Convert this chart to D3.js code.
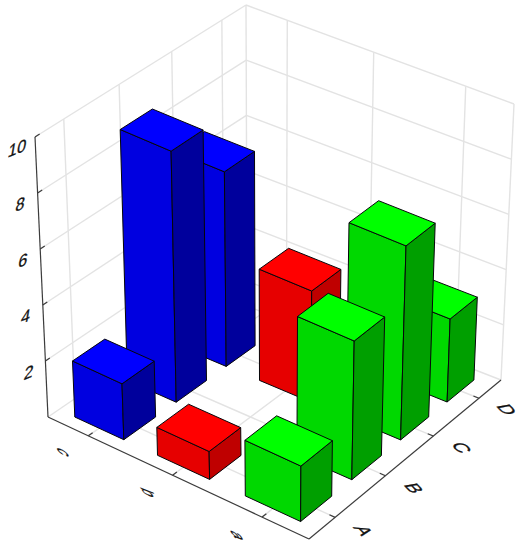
<!DOCTYPE html>
<html>
<head>
<meta charset="UTF-8">
<script src="https://d3js.org/d3.v7.min.js"></script>
<style>
html, body {margin: 0; padding: 0; background: #fff;}
svg {display: block;}
text {font-family: "Liberation Sans", Arial, sans-serif; font-size: 17px; fill: #111; stroke: #111; stroke-width: 0.3px;}
</style>
<title>3D bars</title>
</head>
<body>
<svg id="chart" width="525" height="550"></svg>
<script>
// data (null = no bar)
var colLabels = ["A", "B", "C", "D"];
var rowLabels = ["c", "b", "a"];
var rowC = [2, 9, 7, null];
var rowB = [1, null, 4, null];
var rowA = [2, 5, 7, 3];
var zTicks = [2, 4, 6, 8, 10];
var rows = [rowC, rowB, rowA];

var rowColors = [
    {top: "#0000ff", left: "#0000e0", right: "#00009c"},
    {top: "#ff0000", left: "#e60000", right: "#bf0000"},
    {top: "#00ff00", left: "#00d800", right: "#009f00"}
];

// corners of the box on screen, order: left, back, right, front
var floorQuad = [[48, 417], [247, 281], [501, 380], [309, 539]];
var topQuad = [[35, 137], [246, 5], [514, 104], [311, 262]];

var uScale = d3.scalePoint().domain(colLabels).range([0, 1]).padding(0.5);
var vScale = d3.scalePoint().domain(rowLabels).range([0, 1]).padding(0.5);
var zScale = d3.scaleLinear().domain([0, 10]).range([0, 1]);
var barHalf = 0.3;

// unit square -> quad, projective
function makeHomography(q) {
    var x0 = q[0][0], y0 = q[0][1], x1 = q[1][0], y1 = q[1][1];
    var x2 = q[2][0], y2 = q[2][1], x3 = q[3][0], y3 = q[3][1];
    var sx = x0 - x1 + x2 - x3, sy = y0 - y1 + y2 - y3;
    var dx1 = x1 - x2, dx2 = x3 - x2, dy1 = y1 - y2, dy2 = y3 - y2;
    var den = dx1 * dy2 - dx2 * dy1;
    var g = (sx * dy2 - dx2 * sy) / den;
    var h = (dx1 * sy - sx * dy1) / den;
    var a = x1 - x0 + g * x1, b = x3 - x0 + h * x3;
    var d = y1 - y0 + g * y1, e = y3 - y0 + h * y3;
    return function(u, v) {
        var w = g * u + h * v + 1;
        return [(a * u + b * v + x0) / w, (d * u + e * v + y0) / w];
    };
}
var floorH = makeHomography(floorQuad);
var topH = makeHomography(topQuad);

function project(u, v, z) {
    var p = floorH(u, v), t = topH(u, v);
    return [p[0] + (t[0] - p[0]) * z, p[1] + (t[1] - p[1]) * z];
}

var svg = d3.select("#chart");
var gridG = svg.append("g").attr("fill", "none").attr("stroke", "#e3e3e3").attr("stroke-width", 1.4);
var axisG = svg.append("g").attr("fill", "none").attr("stroke", "#3c3c3c").attr("stroke-width", 1.2);
var barsG = svg.append("g");
var textG = svg.append("g");

function segment(g, a, b) {
    g.append("line").attr("x1", a[0]).attr("y1", a[1]).attr("x2", b[0]).attr("y2", b[1]);
}

// walls
[0].concat(zTicks).forEach(function(t) {
    var z = zScale(t);
    segment(gridG, project(0, 0, z), project(1, 0, z));
    segment(gridG, project(1, 0, z), project(1, 1, z));
});
segment(gridG, project(1, 0, 0), project(1, 0, 1));
segment(gridG, project(1, 1, 0), project(1, 1, 1));
colLabels.forEach(function(c) {
    var u = uScale(c);
    segment(gridG, project(u, 0, 0), project(u, 0, 1));
    segment(gridG, project(u, 0, 0), project(u, 1, 0));
});
rowLabels.forEach(function(r) {
    var v = vScale(r);
    segment(gridG, project(1, v, 0), project(1, v, 1));
    segment(gridG, project(0, v, 0), project(1, v, 0));
});

// axes and ticks
segment(axisG, project(0, 0, 0), project(0, 1, 0));
segment(axisG, project(0, 1, 0), project(1, 1, 0));
segment(axisG, project(0, 0, 0), project(0, 0, 1));
colLabels.forEach(function(c) {
    segment(axisG, project(uScale(c), 1, 0), project(uScale(c), 0.98, 0));
});
rowLabels.forEach(function(r) {
    segment(axisG, project(0, vScale(r), 0), project(0.02, vScale(r), 0));
});
zTicks.forEach(function(t) {
    segment(axisG, project(0, 0, zScale(t)), project(0.02, 0, zScale(t)));
});

// bars, far ones first
var bars = [];
rowLabels.forEach(function(r, i) {
    colLabels.forEach(function(c, j) {
        if (rows[i][j] != null) bars.push({row: r, col: c, value: rows[i][j], colors: rowColors[i]});
    });
});
bars.sort(function(p, q) {
    return (uScale(q.col) - vScale(q.row)) - (uScale(p.col) - vScale(p.row));
});

function face(g, pts, fill) {
    g.append("polygon")
        .attr("points", pts.map(function(p) { return p[0].toFixed(1) + "," + p[1].toFixed(1); }).join(" "))
        .attr("fill", fill)
        .attr("stroke", "#06060a")
        .attr("stroke-width", 1)
        .attr("stroke-linejoin", "round");
}

bars.forEach(function(d) {
    var hu = uScale.step() * barHalf, hv = vScale.step() * barHalf;
    var u0 = uScale(d.col) - hu, u1 = uScale(d.col) + hu;
    var v0 = vScale(d.row) - hv, v1 = vScale(d.row) + hv;
    var z = zScale(d.value);
    face(barsG, [project(u0, v0, 0), project(u0, v1, 0), project(u0, v1, z), project(u0, v0, z)], d.colors.left);
    face(barsG, [project(u0, v1, 0), project(u1, v1, 0), project(u1, v1, z), project(u0, v1, z)], d.colors.right);
    face(barsG, [project(u0, v0, z), project(u1, v0, z), project(u1, v1, z), project(u0, v1, z)], d.colors.top);
});

// slanted labels: ax,ay = baseline direction, bx,by = glyph down direction
function label(txt, p, ax, ay, bx, by) {
    textG.append("text")
        .attr("text-anchor", "middle")
        .attr("dy", "0.35em")
        .attr("transform", "matrix(" + [ax, ay, bx, by, p[0], p[1]].join(",") + ")")
        .text(txt);
}
zTicks.forEach(function(t) {
    label(t, project(-0.075, 0, zScale(t)), 0.95, -0.38, -0.18, 1.05);
});
colLabels.forEach(function(c) {
    label(c, project(uScale(c), 1.1, 0), 0.78, 0.8, -1.1, 0.2);
});
rowLabels.forEach(function(r) {
    label(r, project(-0.11, vScale(r), 0), 0.62, 0.9, -1.05, -0.4);
});
</script>
</body>
</html>
